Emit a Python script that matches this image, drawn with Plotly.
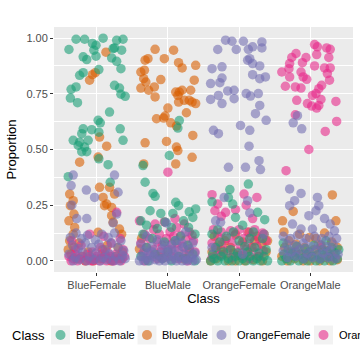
import plotly.graph_objects as go

classes = ["BlueFemale", "BlueMale", "OrangeFemale", "OrangeMale"]
colors = {"BlueFemale": "#1B9E77", "BlueMale": "#D95F02",
          "OrangeFemale": "#7570B3", "OrangeMale": "#E7298A"}
y_ticks = [0, 0.25, 0.5, 0.75, 1.0]
y_ticklabels = ["0.00", "0.25", "0.50", "0.75", "1.00"]

# (horizontal jitter, proportion) pairs,
# one list per colour series and per Class column

# --- BlueFemale series (green)
green_bf = [(-0.29, 0.995), (-0.17, 0.995), (-0.06, 0.976), (0.09, 1.0), (0.28, 0.99), (0.37, 0.995),
            (-0.39, 0.949), (-0.01, 0.968), (-0.04, 0.946), (0.23, 0.953), (0.35, 0.946), (-0.19, 0.916),
            (-0.14, 0.904), (-0.01, 0.919), (0.21, 0.911), (0.25, 0.956), (0.28, 0.896), (0.34, 0.863),
            (0.03, 0.859), (-0.19, 0.845), (-0.24, 0.833), (-0.29, 0.781), (-0.36, 0.770), (-0.37, 0.731),
            (-0.27, 0.710), (0.25, 0.788), (0.32, 0.776), (0.34, 0.748), (0.40, 0.739), (0.18, 0.668),
            (0.02, 0.631), (0.05, 0.620), (-0.19, 0.593), (-0.07, 0.589), (0.33, 0.593), (-0.21, 0.571),
            (0.03, 0.578), (-0.33, 0.541), (-0.24, 0.533), (-0.12, 0.541), (-0.26, 0.518), (-0.17, 0.511),
            (0.37, 0.541), (-0.21, 0.49), (-0.14, 0.49), (0.03, 0.458), (0.16, 0.432), (-0.40, 0.378),
            (0.19, 0.353)]
green_bm = [(0.16, 0.63), (0.14, 0.596), (0.02, 0.473), (-0.35, 0.428), (-0.32, 0.353), (-0.21, 0.303),
            (-0.18, 0.29), (0.11, 0.263), (0.15, 0.248), (-0.25, 0.225), (-0.10, 0.213), (0.07, 0.213),
            (0.39, 0.233), (0.30, 0.22), (0.35, 0.195), (-0.38, 0.18), (-0.30, 0.16), (-0.04, 0.175),
            (0.22, 0.18), (0.29, 0.15), (-0.15, 0.145), (0.05, 0.15), (0.38, 0.12), (-0.35, 0.12),
            (0.18, 0.11), (-0.22, 0.10), (0.10, 0.09), (-0.05, 0.085), (0.28, 0.07), (-0.30, 0.06),
            (0.0, 0.04), (0.35, 0.03), (-0.18, 0.03), (0.15, 0.02), (-0.38, 0.02), (0.25, 0.01),
            (-0.08, 0.01), (0.05, 0.0), (-0.28, 0.0), (0.38, 0.0)]
green_of = [(-0.13, 0.32), (0.13, 0.345), (-0.38, 0.265), (-0.09, 0.255), (-0.15, 0.284), (-0.05, 0.195),
            (0.36, 0.185), (0.26, 0.218), (0.05, 0.16), (-0.30, 0.14), (0.20, 0.13),
            (-0.40, 0.0), (-0.35, 0.01), (-0.30, 0.0), (-0.25, 0.02), (-0.20, 0.0), (-0.15, 0.01),
            (-0.10, 0.0), (-0.05, 0.02), (0.0, 0.0), (0.05, 0.01), (0.10, 0.0), (0.15, 0.02), (0.20, 0.0),
            (0.25, 0.01), (0.30, 0.0), (0.35, 0.02), (0.40, 0.0), (-0.37, 0.03), (-0.22, 0.04),
            (-0.02, 0.035), (0.12, 0.04), (0.28, 0.035), (0.38, 0.05), (-0.33, 0.06), (-0.12, 0.05),
            (0.08, 0.065), (0.22, 0.06), (-0.27, 0.085), (0.0, 0.09), (0.33, 0.1), (-0.18, 0.11),
            (0.15, 0.1), (-0.38, 0.12), (-0.08, 0.13)]
green_om = [(-0.40, 0.0), (-0.34, 0.01), (-0.28, 0.0), (-0.22, 0.02), (-0.16, 0.0), (-0.10, 0.01),
            (-0.04, 0.0), (0.02, 0.02), (0.08, 0.0), (0.14, 0.01), (0.20, 0.0), (0.26, 0.02), (0.32, 0.0),
            (0.38, 0.01), (-0.37, 0.03), (-0.25, 0.035), (-0.13, 0.03), (-0.01, 0.04), (0.11, 0.03),
            (0.23, 0.04), (0.35, 0.035), (-0.31, 0.05), (-0.07, 0.055), (0.17, 0.05), (0.30, 0.06),
            (-0.19, 0.065), (0.05, 0.07), (0.40, 0.05), (-0.38, 0.08), (0.22, 0.09)]

# --- BlueMale series (orange)
orange_bf = [(0.13, 0.937), (-0.06, 0.836), (-0.02, 0.845), (-0.10, 0.811), (0.04, 0.556), (0.14, 0.515),
             (-0.24, 0.443), (0.02, 0.466), (-0.38, 0.30), (-0.33, 0.27), (-0.37, 0.248), (-0.32, 0.21),
             (-0.39, 0.18), (-0.31, 0.15), (-0.33, 0.12), (-0.38, 0.09), (0.04, 0.33), (0.09, 0.285),
             (0.11, 0.248), (0.21, 0.24), (0.21, 0.203), (0.23, 0.173), (0.32, 0.143), (0.35, 0.12),
             (0.02, 0.128), (0.18, 0.33), (0.25, 0.30), (0.14, 0.255), (0.30, 0.06), (-0.40, 0.05),
             (-0.36, 0.03), (-0.28, 0.01), (-0.20, 0.02), (-0.12, 0.04), (-0.05, 0.0), (0.05, 0.01),
             (0.12, 0.03), (0.20, 0.0), (0.27, 0.02), (0.36, 0.04), (-0.32, 0.06), (0.08, 0.05),
             (0.33, 0.01), (-0.16, 0.0), (0.15, 0.07), (-0.25, 0.08)]
orange_bm = [(-0.18, 0.950), (0.08, 0.946), (-0.32, 0.901), (-0.28, 0.908), (-0.05, 0.908), (0.15, 0.890),
             (0.20, 0.866), (0.39, 0.878), (-0.38, 0.848), (-0.33, 0.856), (-0.34, 0.818), (-0.31, 0.803),
             (-0.10, 0.814), (-0.38, 0.776), (-0.27, 0.766), (-0.19, 0.781), (-0.18, 0.736), (0.11, 0.758),
             (0.16, 0.758), (0.14, 0.743), (0.20, 0.766), (0.32, 0.766), (0.37, 0.811), (0.15, 0.713),
             (0.23, 0.721), (0.30, 0.721), (0.39, 0.706), (0.34, 0.713), (0.0, 0.686), (-0.04, 0.650),
             (-0.16, 0.638), (-0.06, 0.641), (0.04, 0.620), (0.26, 0.665), (0.12, 0.605), (0.35, 0.563),
             (-0.32, 0.530), (-0.02, 0.536), (0.12, 0.511), (0.14, 0.495), (0.34, 0.465), (0.11, 0.435),
             (-0.34, 0.435), (-0.40, 0.053), (-0.37, 0.10), (0.30, 0.04), (-0.12, 0.02), (0.22, 0.01)]
orange_of = [(0.40, 0.09), (0.14, 0.128), (-0.35, 0.11), (-0.05, 0.12), (0.25, 0.11), (0.32, 0.075),
             (-0.20, 0.09), (0.05, 0.085), (-0.30, 0.07), (0.18, 0.06), (-0.12, 0.06), (0.38, 0.04),
             (-0.38, 0.04), (0.10, 0.035), (-0.22, 0.03), (0.0, 0.025), (0.27, 0.02), (-0.32, 0.01),
             (-0.15, 0.0), (0.20, 0.005), (-0.05, 0.0), (0.33, 0.0), (-0.40, 0.0), (0.08, 0.0),
             (-0.25, 0.05), (0.22, 0.09), (-0.08, 0.035), (0.35, 0.12)]
orange_om = [(0.31, 0.296), (-0.24, 0.222), (-0.39, 0.18), (0.36, 0.18), (-0.37, 0.13), (-0.01, 0.105),
             (0.08, 0.10), (0.20, 0.125), (-0.15, 0.12), (-0.30, 0.09), (0.30, 0.085), (-0.20, 0.075),
             (0.15, 0.07), (0.38, 0.06), (-0.36, 0.06), (-0.08, 0.06), (0.05, 0.05), (0.24, 0.045),
             (-0.27, 0.04), (-0.14, 0.03), (0.10, 0.025), (0.33, 0.03), (-0.40, 0.02), (-0.02, 0.02),
             (0.20, 0.015), (-0.22, 0.01), (0.38, 0.005), (-0.32, 0.0), (0.0, 0.0), (0.28, 0.0),
             (-0.10, 0.0), (0.13, 0.0)]

# --- OrangeFemale series (purple)
purple_bf = [(-0.33, 0.385), (0.25, 0.385), (-0.36, 0.338), (-0.145, 0.318), (-0.03, 0.285), (0.30, 0.308),
             (-0.35, 0.25), (0.28, 0.21), (-0.14, 0.19), (-0.28, 0.19), (0.23, 0.17),
             (-0.37, 0.105), (-0.29, 0.125), (-0.21, 0.10), (-0.13, 0.115), (-0.02, 0.095), (0.07, 0.12),
             (0.16, 0.105), (0.25, 0.125), (0.34, 0.09), (-0.34, 0.07), (-0.26, 0.055), (-0.16, 0.08),
             (-0.07, 0.06), (0.03, 0.075), (0.12, 0.05), (0.21, 0.08), (0.30, 0.06), (0.38, 0.045),
             (-0.39, 0.03), (-0.30, 0.015), (-0.20, 0.04), (-0.10, 0.02), (-0.01, 0.035), (0.09, 0.015),
             (0.18, 0.03), (0.27, 0.02), (0.36, 0.025), (-0.33, 0.0), (-0.24, 0.005), (-0.14, 0.0),
             (-0.04, 0.005), (0.05, 0.0), (0.14, 0.005), (0.23, 0.0), (0.32, 0.0), (0.40, 0.01)]
purple_bm = [(-0.02, 0.17), (0.25, 0.13), (-0.30, 0.11), (0.12, 0.09), (-0.15, 0.095), (0.35, 0.08),
             (-0.38, 0.075), (0.05, 0.07), (-0.22, 0.065), (0.22, 0.06), (-0.08, 0.055), (0.30, 0.05),
             (-0.33, 0.045), (0.15, 0.045), (-0.02, 0.04), (-0.27, 0.035), (0.38, 0.035), (0.08, 0.03),
             (-0.12, 0.03), (0.25, 0.025), (-0.37, 0.02), (-0.20, 0.02), (0.0, 0.02), (0.18, 0.015),
             (0.33, 0.015), (-0.30, 0.01), (-0.08, 0.01), (0.10, 0.01), (0.28, 0.005), (-0.40, 0.0),
             (-0.34, 0.0), (-0.26, 0.0), (-0.18, 0.005), (-0.12, 0.0), (-0.04, 0.0), (0.04, 0.005),
             (0.12, 0.0), (0.20, 0.0), (0.26, 0.0), (0.35, 0.0), (0.40, 0.005), (-0.22, 0.04),
             (0.05, 0.05), (-0.05, 0.075), (0.20, 0.08)]
purple_of = [(-0.19, 0.991), (-0.10, 0.986), (0.06, 0.986), (0.32, 0.983), (-0.30, 0.949), (-0.04, 0.949),
             (0.13, 0.950), (0.19, 0.961), (0.32, 0.956), (0.15, 0.908), (0.12, 0.901), (0.19, 0.886),
             (0.29, 0.875), (-0.38, 0.863), (-0.24, 0.871), (0.19, 0.836), (0.29, 0.818), (0.37, 0.826),
             (-0.24, 0.821), (-0.40, 0.796), (-0.27, 0.800), (-0.16, 0.763), (-0.07, 0.766), (-0.29, 0.743),
             (-0.40, 0.725), (-0.24, 0.706), (-0.07, 0.728), (0.10, 0.751), (0.16, 0.740), (0.27, 0.751),
             (0.29, 0.698), (0.23, 0.661), (0.38, 0.631), (0.02, 0.608), (0.15, 0.586), (-0.36, 0.586),
             (-0.29, 0.571), (0.14, 0.515), (-0.15, 0.42), (0.09, 0.42), (0.28, 0.45), (0.30, 0.41),
             (-0.21, 0.285), (0.12, 0.27), (-0.33, 0.18), (-0.26, 0.173), (0.15, 0.215), (0.35, 0.12),
             (-0.38, 0.06), (0.05, 0.03)]
purple_om = [(-0.18, 0.652), (-0.24, 0.62), (-0.12, 0.593), (-0.29, 0.323), (-0.13, 0.303), (0.10, 0.285),
             (-0.22, 0.27), (-0.29, 0.248), (0.12, 0.248), (0.08, 0.225), (-0.02, 0.203), (-0.25, 0.165),
             (-0.13, 0.143), (0.28, 0.165), (0.34, 0.135), (0.03, 0.143), (0.20, 0.19),
             (-0.38, 0.11), (-0.28, 0.10), (-0.18, 0.115), (-0.06, 0.10), (0.06, 0.11), (0.16, 0.10),
             (0.26, 0.11), (0.37, 0.10), (-0.33, 0.075), (-0.22, 0.07), (-0.10, 0.08), (0.01, 0.065),
             (0.12, 0.075), (0.22, 0.065), (0.32, 0.075), (-0.38, 0.045), (-0.27, 0.04), (-0.15, 0.05),
             (-0.04, 0.035), (0.08, 0.045), (0.18, 0.035), (0.28, 0.045), (0.39, 0.03), (-0.32, 0.015),
             (-0.20, 0.02), (-0.09, 0.01), (0.03, 0.015), (0.14, 0.01), (0.25, 0.015), (0.35, 0.01)]

# --- OrangeMale series (pink)
pink_bf = [(0.28, 0.218), (-0.10, 0.12), (0.10, 0.11), (0.33, 0.10), (-0.35, 0.09), (0.20, 0.08),
           (-0.22, 0.07), (0.05, 0.06), (-0.30, 0.05), (0.37, 0.05), (-0.06, 0.04), (0.15, 0.04),
           (-0.39, 0.02), (-0.33, 0.01), (-0.27, 0.0), (-0.21, 0.02), (-0.16, 0.0), (-0.11, 0.01),
           (-0.05, 0.0), (0.0, 0.02), (0.04, 0.0), (0.09, 0.01), (0.14, 0.0), (0.19, 0.02), (0.24, 0.0),
           (0.29, 0.01), (0.34, 0.0), (0.39, 0.02), (-0.36, 0.0), (-0.24, 0.01), (-0.13, 0.03),
           (-0.02, 0.01), (0.07, 0.03), (0.17, 0.01), (0.27, 0.03), (0.36, 0.01), (-0.30, 0.03),
           (0.12, 0.02), (0.22, 0.0), (-0.08, 0.0)]
pink_bm = [(0.0, 0.398), (-0.40, 0.18), (-0.05, 0.175), (0.23, 0.165), (0.12, 0.15), (-0.20, 0.14),
           (0.30, 0.13), (0.03, 0.13), (-0.33, 0.12), (-0.12, 0.12), (0.18, 0.115), (0.08, 0.11),
           (-0.26, 0.10), (-0.02, 0.10), (0.25, 0.095), (0.36, 0.09), (-0.38, 0.08), (-0.15, 0.085),
           (0.13, 0.08), (0.05, 0.075), (-0.08, 0.07), (0.20, 0.065), (-0.30, 0.06), (0.30, 0.055),
           (-0.20, 0.05), (0.0, 0.05), (0.10, 0.045), (-0.10, 0.04), (0.38, 0.04), (-0.35, 0.035),
           (0.22, 0.03), (-0.25, 0.025), (0.05, 0.02), (-0.05, 0.015), (0.15, 0.01), (-0.15, 0.01),
           (0.28, 0.0), (-0.32, 0.0), (0.34, 0.115), (-0.18, 0.165), (0.10, 0.19)]
pink_of = [(-0.38, 0.297), (0.07, 0.30), (0.25, 0.285), (-0.30, 0.255), (-0.34, 0.225), (-0.19, 0.218),
           (-0.05, 0.23), (0.19, 0.19), (0.10, 0.25), (-0.25, 0.20), (-0.36, 0.14), (-0.25, 0.13),
           (-0.12, 0.135), (0.0, 0.14), (0.12, 0.13), (0.22, 0.14), (0.33, 0.125), (-0.30, 0.11),
           (-0.18, 0.10), (-0.06, 0.115), (0.06, 0.10), (0.17, 0.11), (0.28, 0.10), (0.38, 0.09),
           (-0.38, 0.08), (-0.24, 0.075), (-0.10, 0.08), (0.02, 0.07), (0.14, 0.075), (0.25, 0.065),
           (-0.32, 0.05), (-0.16, 0.045), (-0.02, 0.04), (0.10, 0.05), (0.21, 0.04), (0.34, 0.045),
           (-0.26, 0.025), (0.05, 0.02), (-0.10, 0.015), (0.28, 0.02), (0.15, 0.01), (-0.38, 0.015)]
pink_om = [(0.06, 0.971), (0.10, 0.961), (0.23, 0.956), (0.28, 0.950), (0.09, 0.926), (0.26, 0.913),
           (-0.20, 0.931), (-0.26, 0.913), (-0.06, 0.913), (-0.29, 0.886), (-0.11, 0.890), (-0.30, 0.863),
           (-0.40, 0.848), (0.06, 0.875), (0.20, 0.866), (0.28, 0.866), (0.24, 0.841), (-0.13, 0.848),
           (-0.10, 0.826), (-0.29, 0.826), (0.27, 0.811), (0.16, 0.788), (-0.05, 0.815), (-0.35, 0.784),
           (-0.21, 0.781), (-0.13, 0.776), (0.12, 0.773), (0.08, 0.751), (0.03, 0.743), (-0.19, 0.721),
           (0.15, 0.725), (0.36, 0.716), (-0.04, 0.706), (0.02, 0.695), (0.09, 0.686), (0.12, 0.698),
           (-0.21, 0.656), (0.37, 0.626), (0.21, 0.581), (-0.02, 0.500), (-0.34, 0.405), (0.15, 0.06),
           (-0.20, 0.04), (0.30, 0.02), (-0.05, 0.03)]

series = {
    "BlueFemale": [green_bf, green_bm, green_of, green_om],
    "BlueMale": [orange_bf, orange_bm, orange_of, orange_om],
    "OrangeFemale": [purple_bf, purple_bm, purple_of, purple_om],
    "OrangeMale": [pink_bf, pink_bm, pink_of, pink_om],
}
draw_order = ["BlueMale", "OrangeMale", "BlueFemale", "OrangeFemale"]

fig = go.Figure()
for name in draw_order:
    xs, ys = [], []
    for i, grp in enumerate(series[name]):
        for dx, p in grp:
            xs.append(i + 1 + dx)
            ys.append(p)
    fig.add_trace(go.Scatter(x=xs, y=ys, mode="markers", name=name, showlegend=False,
                             marker=dict(color=colors[name], size=9.5, opacity=0.6,
                                         line=dict(width=0))))

L, R, T, B = 54, 7, 27, 88
W = H = 360


def px_x(px):
    return (px - L) / (W - L - R)


def px_y(py):
    return (H - B - py) / (H - B - T)


# legend drawn by hand so it runs off the right edge like the original
shapes = []
annotations = [dict(text="Class", x=px_x(10), y=px_y(335), xref="paper", yref="paper",
                    xanchor="left", yanchor="middle", showarrow=False,
                    font=dict(size=13, color="black"))]
key_cx = [60.5, 147, 221.5, 323.5]
for name, cx in zip(classes, key_cx):
    shapes.append(dict(type="rect", xref="paper", yref="paper",
                       x0=px_x(cx - 9.5), x1=px_x(cx + 9.5), y0=px_y(344.5), y1=px_y(325.5),
                       fillcolor="#F2F2F2", line=dict(width=0), layer="above"))
    shapes.append(dict(type="circle", xref="paper", yref="paper",
                       x0=px_x(cx - 5), x1=px_x(cx + 5), y0=px_y(340), y1=px_y(330),
                       fillcolor=colors[name], opacity=0.6, line=dict(width=0), layer="above"))
    annotations.append(dict(text=name, x=px_x(cx + 13), y=px_y(335), xref="paper", yref="paper",
                            xanchor="left", yanchor="middle", showarrow=False,
                            font=dict(size=11, color="black")))

fig.update_layout(
    width=W, height=H,
    margin=dict(l=L, r=R, t=T, b=B),
    plot_bgcolor="#EBEBEB", paper_bgcolor="white",
    font=dict(family="Liberation Sans, Arial, sans-serif", size=11, color="#4D4D4D"),
    showlegend=False,
    shapes=shapes, annotations=annotations,
    xaxis=dict(range=[0.4, 4.6], tickvals=[1, 2, 3, 4], ticktext=classes,
               showgrid=True, gridcolor="white", gridwidth=1.3, zeroline=False,
               ticks="outside", ticklen=3, tickcolor="#333333", tickwidth=1,
               tickfont=dict(size=11, color="#4D4D4D"),
               title=dict(text="Class", font=dict(size=13, color="black"), standoff=2)),
    yaxis=dict(range=[-0.05, 1.05], tickvals=y_ticks, ticktext=y_ticklabels,
               showgrid=True, gridcolor="white", gridwidth=1.3, zeroline=False,
               ticks="outside", ticklen=3, tickcolor="#333333", tickwidth=1,
               tickfont=dict(size=11, color="#4D4D4D"),
               minor=dict(tickvals=[0.125, 0.375, 0.625, 0.875], showgrid=True,
                          gridcolor="white", gridwidth=0.6, ticks=""),
               title=dict(text="Proportion", font=dict(size=13, color="black"), standoff=6)),
)

# the page's default body margin would shift the figure by 8px
fig.write_html("out.html", config={"displayModeBar": False},
               post_script="document.body.style.margin='0';")
